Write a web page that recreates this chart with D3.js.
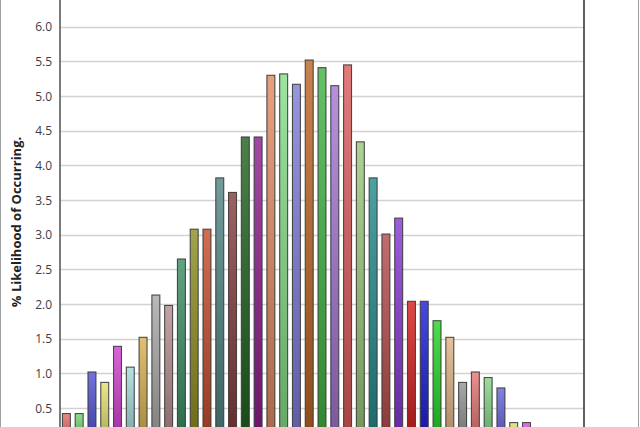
<!DOCTYPE html>
<html><head><meta charset="utf-8">
<script src="https://cdn.jsdelivr.net/npm/d3@7"></script>
<style>html,body{margin:0;padding:0;background:#fff;}svg{display:block;}</style>
</head><body>
<svg id="chart" width="640" height="427"></svg>
<script>
const categories = d3.range(1, 42).map(String);
const values = [0.42,0.42,1.02,0.87,1.39,1.09,1.52,2.13,1.98,2.65,3.08,3.08,3.82,3.61,4.41,4.41,5.30,5.32,5.17,5.52,5.41,5.15,5.45,4.34,3.82,3.01,3.24,2.04,2.04,1.76,1.52,0.87,1.02,0.94,0.79,0.29,0.29,0.14,0.07,0.07,0.03];
const colors = ["#e46a6a","#6fd46f","#5050d4","#e4e070","#d040d0","#a4dada","#d8b050","#a8a8a8","#b48c8c","#3a8c62","#8c8c20","#c44a2a","#508282","#843a3a","#1e601e","#8c1a8c","#e08a62","#86dc86","#7c7cd6","#bc6422","#40b240","#a474d4","#dc5a5a","#98c878","#228a8a","#b44a4a","#8434d4","#d41c1c","#1c1cd4","#22d422","#e0b282","#929292","#e47474","#84d484","#6464da","#e4e070","#e050e0","#d4a050","#a8a8a8","#6fd46f","#5050d4"];
const yTicks = [0.5,1.0,1.5,2.0,2.5,3.0,3.5,4.0,4.5,5.0,5.5,6.0];
const yTitle = "% Likelihood of Occurring.";

const svg = d3.select("#chart");
const left = 60, right = 584, y0 = 442.7, yTop = -7.9;
const x = d3.scaleBand().domain(categories).range([left, right]).paddingInner(0.3).paddingOuter(0.15);
const y = d3.scaleLinear().domain([0, 6.5]).range([y0, yTop]);

// outer frame
svg.append("rect").attr("x",0.5).attr("y",-10).attr("width",638).attr("height",460)
  .attr("fill","none").attr("stroke","#a0a0a0").attr("stroke-width",1);

// gridlines
svg.append("g").selectAll("line").data(yTicks).join("line")
  .attr("x1",left).attr("x2",right).attr("y1",d=>Math.round(y(d))+0.5).attr("y2",d=>Math.round(y(d))+0.5)
  .attr("stroke","#d2d2d2").attr("stroke-width",1.3);

// gradients
const defs = svg.append("defs");
colors.forEach((c,i)=>{
  const g = defs.append("linearGradient").attr("id","g"+i).attr("x1",0).attr("x2",0).attr("y1",0).attr("y2",1);
  g.append("stop").attr("offset","0%").attr("stop-color", d3.interpolateRgb(c,"#fff")(0.2));
  g.append("stop").attr("offset","100%").attr("stop-color", d3.color(c).darker(0.8));
});

// bars
svg.append("g").selectAll("rect").data(values).join("rect")
  .attr("x",(d,i)=>x(categories[i])+0.5)
  .attr("y",d=>y(d))
  .attr("width",x.bandwidth()-1)
  .attr("height",d=>y0-y(d))
  .attr("fill",(d,i)=>`url(#g${i})`)
  .attr("stroke","#3a3a3a").attr("stroke-opacity",0.9).attr("stroke-width",1.1);

// axis
const axis = d3.axisLeft(y).tickValues(yTicks).tickFormat(d3.format(".1f")).tickSize(0).tickPadding(8);
const ag = svg.append("g").attr("transform",`translate(${left},0)`).call(axis);
ag.select(".domain").remove();
ag.selectAll("text").attr("font-family","'Open Sans', sans-serif").attr("font-size",12).attr("fill","#3c3c46").attr("dy","0.35em");
svg.append("line").attr("x1",left).attr("x2",left).attr("y1",-10).attr("y2",460).attr("stroke","#5a5a5a").attr("stroke-width",1.6);
svg.append("line").attr("x1",right).attr("x2",right).attr("y1",-10).attr("y2",460).attr("stroke","#3a3a3a").attr("stroke-width",1.6);

// title
svg.append("text").attr("transform","translate(21,222) rotate(-90)")
  .attr("text-anchor","middle").attr("font-family","'Open Sans', sans-serif")
  .attr("font-weight","bold").attr("font-size",13).attr("fill","#222").text(yTitle);
</script>
</body></html>
